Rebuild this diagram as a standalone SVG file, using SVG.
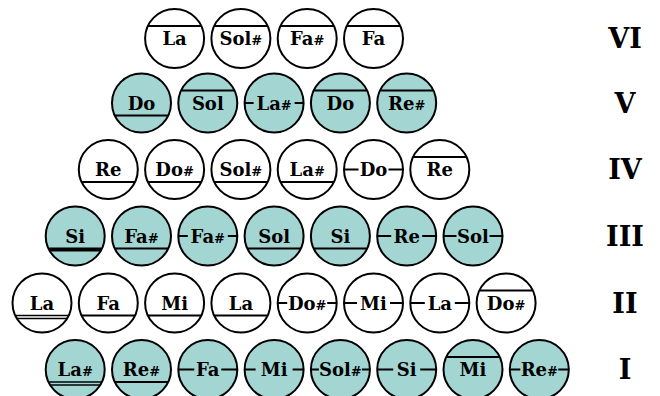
<svg xmlns="http://www.w3.org/2000/svg" width="660" height="396" viewBox="0 0 660 396">
<style>
.w{fill:#fff;stroke:#000;stroke-width:2}
.t{fill:#a3d5d2;stroke:#000;stroke-width:2}
.l{stroke:#000;stroke-width:2;fill:none}
.d{stroke:#000;stroke-width:1.5;fill:none}
.k{stroke:#000;stroke-width:3.8;fill:none}
.n{font-family:"DejaVu Serif","Liberation Serif",serif;font-weight:bold;font-size:18px;text-anchor:middle;fill:#000}
.s{font-size:13px}
.r{font-family:"DejaVu Serif","Liberation Serif",serif;font-weight:bold;font-size:27px;text-anchor:middle;fill:#000}
</style>
<rect width="660" height="396" fill="#fff"/>
<!-- Row VI -->
<g id="vi1"><circle class="w" cx="174.6" cy="38.5" r="29.5"/><line class="l" x1="147.9" y1="26" x2="201.3" y2="26"/><text class="n" x="174.6" y="45">La</text></g>
<g id="vi2"><circle class="w" cx="240.9" cy="38.5" r="29.5"/><line class="l" x1="214.2" y1="26" x2="267.6" y2="26"/><text class="n" x="240.9" y="45">Sol<tspan class="s">#</tspan></text></g>
<g id="vi3"><circle class="w" cx="307.2" cy="38.5" r="29.5"/><line class="l" x1="280.5" y1="26" x2="333.9" y2="26"/><text class="n" x="307.2" y="45">Fa<tspan class="s">#</tspan></text></g>
<g id="vi4"><circle class="w" cx="373.5" cy="38.5" r="29.5"/><line class="l" x1="346.8" y1="26" x2="400.2" y2="26"/><text class="n" x="373.5" y="45">Fa</text></g>
<!-- Row V -->
<g id="v1"><circle class="t" cx="141.5" cy="103" r="29.5"/><line class="l" x1="114.8" y1="115.5" x2="168.2" y2="115.5"/><text class="n" x="141.5" y="109.5">Do</text></g>
<g id="v2"><circle class="t" cx="207.8" cy="103" r="29.5"/><line class="l" x1="181.1" y1="90.5" x2="234.5" y2="90.5"/><text class="n" x="207.8" y="109.5">Sol</text></g>
<g id="v3"><circle class="t" cx="274.1" cy="103" r="29.5"/><line class="l" x1="244.6" y1="103" x2="253.6" y2="103"/><line class="l" x1="294.6" y1="103" x2="303.6" y2="103"/><text class="n" x="274.1" y="109.5">La<tspan class="s">#</tspan></text></g>
<g id="v4"><circle class="t" cx="340.4" cy="103" r="29.5"/><line class="l" x1="313.7" y1="90.5" x2="367.1" y2="90.5"/><text class="n" x="340.4" y="109.5">Do</text></g>
<g id="v5"><circle class="t" cx="406.7" cy="103" r="29.5"/><line class="l" x1="380" y1="90.5" x2="433.4" y2="90.5"/><text class="n" x="406.7" y="109.5">Re<tspan class="s">#</tspan></text></g>
<!-- Row IV -->
<g id="iv1"><circle class="w" cx="108.3" cy="169.5" r="29.5"/><line class="l" x1="81.6" y1="182" x2="135" y2="182"/><text class="n" x="108.3" y="176">Re</text></g>
<g id="iv2"><circle class="w" cx="174.6" cy="169.5" r="29.5"/><line class="l" x1="147.9" y1="182" x2="201.3" y2="182"/><text class="n" x="174.6" y="176">Do<tspan class="s">#</tspan></text></g>
<g id="iv3"><circle class="w" cx="240.9" cy="169.5" r="29.5"/><line class="l" x1="214.2" y1="182" x2="267.6" y2="182"/><text class="n" x="240.9" y="176">Sol<tspan class="s">#</tspan></text></g>
<g id="iv4"><circle class="w" cx="307.2" cy="169.5" r="29.5"/><line class="l" x1="280.5" y1="182" x2="333.9" y2="182"/><text class="n" x="307.2" y="176">La<tspan class="s">#</tspan></text></g>
<g id="iv5"><circle class="w" cx="373.5" cy="169.5" r="29.5"/><line class="l" x1="344" y1="169.5" x2="358.5" y2="169.5"/><line class="l" x1="388.5" y1="169.5" x2="403" y2="169.5"/><text class="n" x="373.5" y="176">Do</text></g>
<g id="iv6"><circle class="w" cx="439.8" cy="169.5" r="29.5"/><line class="l" x1="413.1" y1="157" x2="466.5" y2="157"/><text class="n" x="439.8" y="176">Re</text></g>
<!-- Row III -->
<g id="iii1"><circle class="t" cx="75.2" cy="236" r="29.5"/><line class="k" x1="49.2" y1="249.5" x2="101.2" y2="249.5"/><text class="n" x="75.2" y="242.5">Si</text></g>
<g id="iii2"><circle class="t" cx="141.5" cy="236" r="29.5"/><line class="l" x1="114.8" y1="248.5" x2="168.2" y2="248.5"/><text class="n" x="141.5" y="242.5">Fa<tspan class="s">#</tspan></text></g>
<g id="iii3"><circle class="t" cx="207.8" cy="236" r="29.5"/><line class="l" x1="178.3" y1="236" x2="187.8" y2="236"/><line class="l" x1="227.8" y1="236" x2="237.3" y2="236"/><text class="n" x="207.8" y="242.5">Fa<tspan class="s">#</tspan></text></g>
<g id="iii4"><circle class="t" cx="274.1" cy="236" r="29.5"/><line class="l" x1="247.4" y1="248.5" x2="300.8" y2="248.5"/><text class="n" x="274.1" y="242.5">Sol</text></g>
<g id="iii5"><circle class="t" cx="340.4" cy="236" r="29.5"/><line class="l" x1="313.7" y1="248.5" x2="367.1" y2="248.5"/><text class="n" x="340.4" y="242.5">Si</text></g>
<g id="iii6"><circle class="t" cx="406.7" cy="236" r="29.5"/><line class="l" x1="377.2" y1="236" x2="391.2" y2="236"/><line class="l" x1="422.2" y1="236" x2="436.2" y2="236"/><text class="n" x="406.7" y="242.5">Re</text></g>
<g id="iii7"><circle class="t" cx="473" cy="236" r="29.5"/><line class="l" x1="443.5" y1="236" x2="456.5" y2="236"/><line class="l" x1="489.5" y1="236" x2="502.5" y2="236"/><text class="n" x="473" y="242.5">Sol</text></g>
<!-- Row II -->
<g id="ii1"><circle class="w" cx="42" cy="303" r="29.5"/><line class="d" x1="15.3" y1="315.5" x2="68.7" y2="315.5"/><line class="d" x1="16.9" y1="318.5" x2="67.1" y2="318.5"/><text class="n" x="42" y="309.5">La</text></g>
<g id="ii2"><circle class="w" cx="108.3" cy="303" r="29.5"/><line class="l" x1="81.6" y1="315.5" x2="135" y2="315.5"/><text class="n" x="108.3" y="309.5">Fa</text></g>
<g id="ii3"><circle class="w" cx="174.6" cy="303" r="29.5"/><line class="l" x1="147.9" y1="315.5" x2="201.3" y2="315.5"/><text class="n" x="174.6" y="309.5">Mi</text></g>
<g id="ii4"><circle class="w" cx="240.9" cy="303" r="29.5"/><line class="l" x1="214.2" y1="315.5" x2="267.6" y2="315.5"/><text class="n" x="240.9" y="309.5">La</text></g>
<g id="ii5"><circle class="w" cx="307.2" cy="303" r="29.5"/><line class="l" x1="277.7" y1="303" x2="287.2" y2="303"/><line class="l" x1="327.2" y1="303" x2="336.7" y2="303"/><text class="n" x="307.2" y="309.5">Do<tspan class="s">#</tspan></text></g>
<g id="ii6"><circle class="w" cx="373.5" cy="303" r="29.5"/><line class="l" x1="344" y1="303" x2="357" y2="303"/><line class="l" x1="390" y1="303" x2="403" y2="303"/><text class="n" x="373.5" y="309.5">Mi</text></g>
<g id="ii7"><circle class="w" cx="439.8" cy="303" r="29.5"/><line class="l" x1="410.3" y1="303" x2="424.8" y2="303"/><line class="l" x1="454.8" y1="303" x2="469.3" y2="303"/><text class="n" x="439.8" y="309.5">La</text></g>
<g id="ii8"><circle class="w" cx="506.1" cy="303" r="29.5"/><line class="l" x1="479.4" y1="290.5" x2="532.8" y2="290.5"/><text class="n" x="506.1" y="309.5">Do<tspan class="s">#</tspan></text></g>
<!-- Row I -->
<g id="i1"><circle class="t" cx="75.2" cy="369.5" r="29.5"/><line class="d" x1="48.5" y1="382" x2="101.9" y2="382"/><line class="d" x1="50.1" y1="385" x2="100.3" y2="385"/><text class="n" x="75.2" y="376">La<tspan class="s">#</tspan></text></g>
<g id="i2"><circle class="t" cx="141.5" cy="369.5" r="29.5"/><line class="l" x1="114.8" y1="382" x2="168.2" y2="382"/><text class="n" x="141.5" y="376">Re<tspan class="s">#</tspan></text></g>
<g id="i3"><circle class="t" cx="207.8" cy="369.5" r="29.5"/><line class="l" x1="178.3" y1="369.5" x2="194.3" y2="369.5"/><line class="l" x1="221.3" y1="369.5" x2="237.3" y2="369.5"/><text class="n" x="207.8" y="376">Fa</text></g>
<g id="i4"><circle class="t" cx="274.1" cy="369.5" r="29.5"/><line class="l" x1="244.6" y1="369.5" x2="255.6" y2="369.5"/><line class="l" x1="292.6" y1="369.5" x2="303.6" y2="369.5"/><text class="n" x="274.1" y="376">Mi</text></g>
<g id="i5"><circle class="t" cx="340.4" cy="369.5" r="29.5"/><line class="l" x1="310.9" y1="369.5" x2="318.9" y2="369.5"/><line class="l" x1="361.9" y1="369.5" x2="369.9" y2="369.5"/><text class="n" x="340.4" y="376">Sol<tspan class="s">#</tspan></text></g>
<g id="i6"><circle class="t" cx="406.7" cy="369.5" r="29.5"/><line class="l" x1="377.2" y1="369.5" x2="393.2" y2="369.5"/><line class="l" x1="420.2" y1="369.5" x2="436.2" y2="369.5"/><text class="n" x="406.7" y="376">Si</text></g>
<g id="i7"><circle class="t" cx="473" cy="369.5" r="29.5"/><line class="l" x1="446.3" y1="357" x2="499.7" y2="357"/><text class="n" x="473" y="376">Mi</text></g>
<g id="i8"><circle class="t" cx="539.3" cy="369.5" r="29.5"/><line class="l" x1="509.8" y1="369.5" x2="520.3" y2="369.5"/><line class="l" x1="558.3" y1="369.5" x2="568.8" y2="369.5"/><text class="n" x="539.3" y="376">Re<tspan class="s">#</tspan></text></g>
<!-- Row labels -->
<g id="labels">
<text class="r" x="625" y="48">VI</text>
<text class="r" x="625" y="112.5">V</text>
<text class="r" x="625" y="179">IV</text>
<text class="r" x="625" y="245.5">III</text>
<text class="r" x="625" y="312.5">II</text>
<text class="r" x="625" y="379">I</text>
</g>
</svg>
